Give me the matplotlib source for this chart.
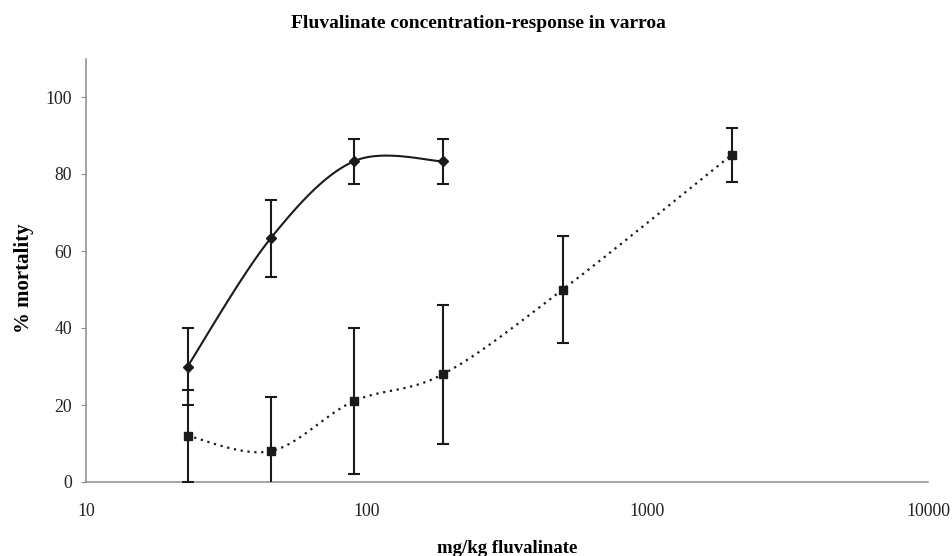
import numpy as np
import matplotlib
matplotlib.use("Agg")
import matplotlib.pyplot as plt

# ---- data ----
conc_a = [23.0, 45.5, 90.0, 187.0]
mort_a = [30.0, 63.3, 83.3, 83.3]
err_a = [10.0, 10.0, 5.8, 5.8]

conc_b = [23.0, 45.5, 90.0, 187.0, 500.0, 2000.0]
mort_b = [12.0, 8.0, 21.0, 28.0, 50.0, 85.0]
err_b = [12.0, 14.0, 19.0, 18.0, 14.0, 7.0]

title = "Fluvalinate concentration-response in varroa"
xlabel = "mg/kg fluvalinate"
ylabel = "% mortality"
yticks = [0, 20, 40, 60, 80, 100]
xticks = [10, 100, 1000, 10000]


def excel_smooth(xs, ys, n=40):
    """Catmull-Rom style Bezier smoothing (as spreadsheet 'smoothed line'), in log-x space."""
    lx = np.log10(np.asarray(xs, float))
    y = np.asarray(ys, float)
    P = np.column_stack([lx, y])
    out = []
    m = len(P)
    for i in range(m - 1):
        p0 = P[i - 1] if i > 0 else P[i]
        p1 = P[i]
        p2 = P[i + 1]
        p3 = P[i + 2] if i + 2 < m else P[i + 1]
        c1 = p1 + (p2 - p0) / 6.0
        c2 = p2 - (p3 - p1) / 6.0
        t = np.linspace(0, 1, n)[:, None]
        seg = ((1 - t) ** 3) * p1 + 3 * ((1 - t) ** 2) * t * c1 + 3 * (1 - t) * t ** 2 * c2 + t ** 3 * p2
        out.append(seg if i == 0 else seg[1:])
    s = np.vstack(out)
    return 10 ** s[:, 0], s[:, 1]


plt.rcParams['font.family'] = ['Liberation Serif', 'DejaVu Serif']

fig = plt.figure(figsize=(9.53, 5.56), dpi=100)
ax = fig.add_axes([86 / 953, 1 - 482 / 556, (928 - 86) / 953, (482 - 58.5) / 556])

ax.set_xscale('log')
ax.set_xlim(10, 10000)
ax.set_ylim(0, 110)

col = '#1a1a1a'

# smoothed curves
sx, sy = excel_smooth(conc_a, mort_a)
ax.plot(sx, sy, color=col, lw=1.5, solid_capstyle='round')
sx, sy = excel_smooth(conc_b, mort_b)
ax.plot(sx, sy, color=col, lw=1.6, linestyle=(0, (1.0, 2.1)))

# error bars + markers
ax.errorbar(conc_b, mort_b, yerr=err_b, fmt='s', color=col, ms=6, capsize=4,
            elinewidth=1.5, capthick=1.5, zorder=3)
ax.errorbar(conc_a, mort_a, yerr=err_a, fmt='D', color=col, ms=5, capsize=4,
            elinewidth=1.5, capthick=1.5, zorder=4)

# axes styling
for s in ['top', 'right']:
    ax.spines[s].set_visible(False)
for s in ['left', 'bottom']:
    ax.spines[s].set_color('#8c8c8c')
    ax.spines[s].set_linewidth(1.1)

ax.set_yticks(yticks)
ax.set_yticklabels([str(v) for v in yticks])
ax.set_xticks(xticks)
ax.set_xticklabels([str(v) for v in xticks])
ax.xaxis.set_minor_locator(matplotlib.ticker.NullLocator())
ax.tick_params(axis='y', length=3.5, width=0.8, color='#8c8c8c', pad=6.5,
               labelsize=12.8, labelcolor='#222222')
ax.tick_params(axis='x', length=0, pad=15, labelsize=12.8, labelcolor='#222222')

fig.text(478 / 953, 1 - 28 / 556, title, ha='center', va='baseline',
         fontsize=14, fontweight='bold')
fig.text(507 / 953, 1 - 553 / 556, xlabel, ha='center', va='baseline',
         fontsize=13.5, fontweight='bold')
fig.text(24 / 953, 1 - 278 / 556, ylabel, ha='center', va='center', rotation=90,
         fontsize=15, fontweight='bold')

fig.savefig('out.png', dpi=100)
